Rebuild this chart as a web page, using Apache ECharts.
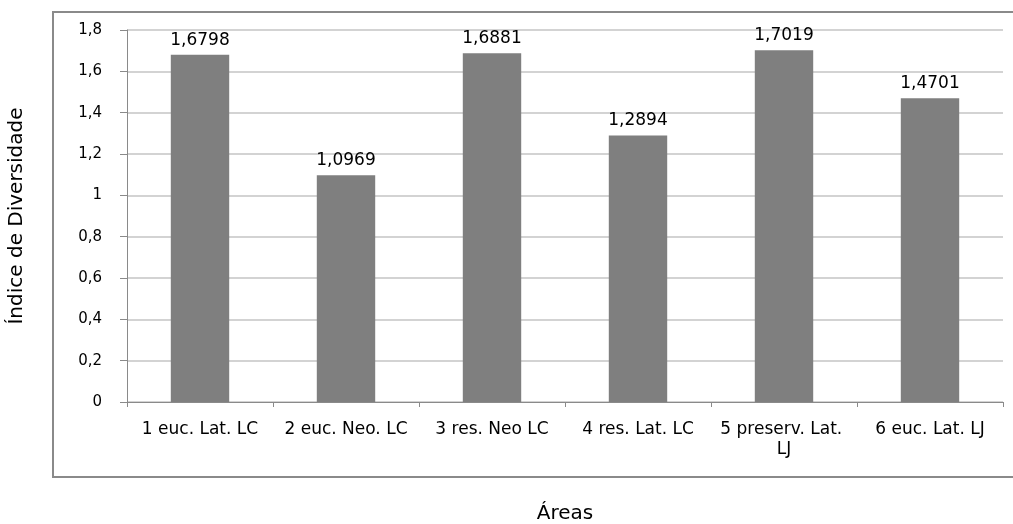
<!DOCTYPE html>
<html>
<head>
<meta charset="utf-8">
<script src="https://cdn.jsdelivr.net/npm/echarts@6/dist/echarts.min.js"></script>
<style>
  html, body { margin: 0; padding: 0; background: #ffffff; }
  #chart { width: 1013px; height: 524px; }
</style>
</head>
<body>
<div id="chart"></div>
<script>
// Diversity index per sampled area
const areas = ['1 euc. Lat. LC', '2 euc. Neo. LC', '3 res. Neo LC', '4 res. Lat. LC', '5 preserv. Lat. LJ', '6 euc. Lat. LJ'];
const diversity = [1.6798, 1.0969, 1.6881, 1.2894, 1.7019, 1.4701];
const yTicks = { min: 0, max: 1.8, step: 0.2 };
const xTitle = 'Áreas';
const yTitle = 'Índice de Diversidade';

const comma = v => String(v).replace('.', ',');
const font = 'DejaVu Sans';

const chart = echarts.init(document.getElementById('chart'), null, { renderer: 'canvas' });
chart.setOption({
  animation: false,
  backgroundColor: '#ffffff',
  textStyle: { fontFamily: font },
  graphic: [{
    type: 'rect',
    silent: true,
    z: -1,
    shape: { x: 53, y: 12, width: 980, height: 465 },
    style: { fill: 'none', stroke: '#8a8a8a', lineWidth: 2 }
  }],
  grid: { left: 127, right: 10, top: 30, bottom: 122, containLabel: false, outerBoundsMode: 'none' },
  xAxis: {
    type: 'category',
    data: areas,
    name: xTitle,
    nameLocation: 'middle',
    nameGap: 102,
    nameTextStyle: { fontSize: 20, color: '#000', fontFamily: font },
    axisLine: { lineStyle: { color: '#8a8a8a', width: 1 } },
    axisTick: { show: true, length: 5, alignWithLabel: false, lineStyle: { color: '#8a8a8a' } },
    axisLabel: {
      interval: 0, margin: 18, fontSize: 17, color: '#000', fontFamily: font,
      width: 132, overflow: 'break', lineHeight: 20
    }
  },
  yAxis: {
    type: 'value',
    min: yTicks.min,
    max: yTicks.max,
    interval: yTicks.step,
    name: yTitle,
    nameLocation: 'middle',
    nameGap: 100,
    nameTextStyle: { fontSize: 20, color: '#000', fontFamily: font },
    axisLine: { show: true, lineStyle: { color: '#8a8a8a', width: 1 } },
    axisTick: { show: true, length: 7, lineStyle: { color: '#8a8a8a' } },
    axisLabel: {
      margin: 25, fontSize: 15, color: '#000', fontFamily: font,
      formatter: v => comma(Math.round(v * 10) / 10)
    },
    splitLine: { lineStyle: { color: '#c4c4c4', width: 1.5 } }
  },
  series: [{
    type: 'bar',
    data: diversity,
    barWidth: '40%',
    itemStyle: { color: '#7f7f7f' },
    label: {
      show: true, position: 'top', distance: 6,
      fontSize: 17, color: '#000', fontFamily: font,
      formatter: p => p.value.toFixed(4).replace('.', ',')
    }
  }]
});
</script>
</body>
</html>
